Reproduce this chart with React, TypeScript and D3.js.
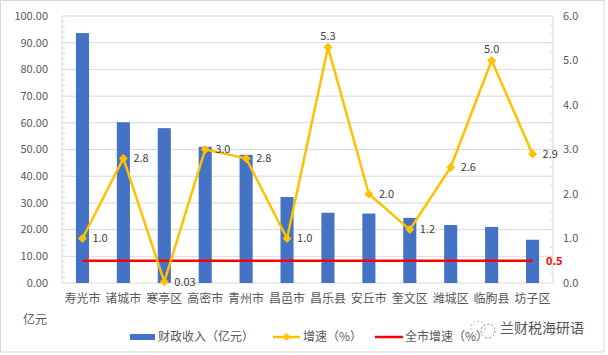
import React from "react";
import * as d3 from "d3";

const categories = ["寿光市", "诸城市", "寒亭区", "高密市", "青州市", "昌邑市", "昌乐县", "安丘市", "奎文区", "潍城区", "临朐县", "坊子区"];
const revenue = [93.6, 60.2, 58.0, 51.0, 48.0, 32.2, 26.3, 26.0, 24.4, 21.7, 21.0, 16.2];
const growth = [1.0, 2.8, 0.03, 3.0, 2.8, 1.0, 5.3, 2.0, 1.2, 2.6, 5.0, 2.9];
const growthLabels = ["1.0", "2.8", "0.03", "3.0", "2.8", "1.0", "5.3", "2.0", "1.2", "2.6", "5.0", "2.9"];
const labelPlacement = ["right", "right", "right", "right", "right", "right", "above", "right", "right", "right", "above", "right"];
const cityGrowth = 0.5;
const leftTicks = [0, 10, 20, 30, 40, 50, 60, 70, 80, 90, 100];
const rightTicks = [0, 1, 2, 3, 4, 5, 6];
const legendLabels = ["财政收入（亿元）", "增速（%）", "全市增速（%）"];

const W = 608, H = 355;
const M = { left: 62, right: 553, top: 16, bottom: 283 };
const FONT = "'Noto Sans CJK SC', 'Noto Sans', sans-serif";
const BLUE = "#4472C4", GOLD = "#FFC000", RED = "#FF0000", GRID = "#D9D9D9", TXT = "#595959";

function diamond(x: number, y: number, r: number) {
  return `M${x},${y - r}L${x + r},${y}L${x},${y + r}L${x - r},${y}Z`;
}

export default function App() {
  const x = d3.scaleBand<string>().domain(categories).range([M.left, M.right]).paddingInner(0).paddingOuter(0);
  const yL = d3.scaleLinear().domain([0, 100]).range([M.bottom, M.top]);
  const yR = d3.scaleLinear().domain([0, 6]).range([M.bottom, M.top]);
  const bw = x.bandwidth() * 0.32;
  const cx = (c: string) => (x(c) as number) + x.bandwidth() / 2;
  const line = d3.line<number>().x((_, i) => cx(categories[i])).y((d) => yR(d));
  const leftMinor = d3.range(0, 101, 2).filter((v) => v % 10 !== 0);
  const rightMinor = d3.range(0, 31).map((v) => v / 5).filter((v, i) => i % 5 !== 0);
  const redY = yR(cityGrowth);
  const firstX = cx(categories[0]);
  const lastX = cx(categories[categories.length - 1]);

  return (
    <svg width={W} height={H} style={{ position: "absolute", left: 0, top: 0, fontFamily: FONT }}>
      <rect x={0.5} y={0.5} width={603.5} height={351.5} fill="#fff" stroke="#D9D9D9" />
      {leftTicks.map((t) => (
        <line key={"g" + t} x1={M.left} x2={M.right} y1={yL(t)} y2={yL(t)} stroke={GRID} strokeWidth={1} />
      ))}
      <line x1={M.left} x2={M.left} y1={M.top} y2={M.bottom} stroke={GRID} />
      <line x1={M.right} x2={M.right} y1={M.top} y2={M.bottom} stroke={GRID} />
      {leftMinor.map((t) => (
        <line key={"lm" + t} x1={M.left} x2={M.left + 3} y1={yL(t)} y2={yL(t)} stroke={GRID} />
      ))}
      {rightMinor.map((t) => (
        <line key={"rm" + t} x1={M.right - 3} x2={M.right} y1={yR(t)} y2={yR(t)} stroke={GRID} />
      ))}
      {leftTicks.map((t) => (
        <text key={"lt" + t} x={48} y={yL(t)} dy="0.35em" textAnchor="end" fontSize={11} fill={TXT}>
          {t.toFixed(2)}
        </text>
      ))}
      {rightTicks.map((t) => (
        <text key={"rt" + t} x={563} y={yR(t)} dy="0.35em" textAnchor="start" fontSize={11} fill={TXT}>
          {t.toFixed(1)}
        </text>
      ))}
      {categories.map((c, i) => (
        <rect key={"b" + c} x={cx(c) - bw / 2} y={yL(revenue[i])} width={bw} height={M.bottom - yL(revenue[i])} fill={BLUE} />
      ))}
      {categories.map((c) => (
        <text key={"c" + c} x={cx(c)} y={299} dy="0.35em" textAnchor="middle" fontSize={12} fill={TXT}>
          {c}
        </text>
      ))}
      <line x1={firstX} x2={lastX} y1={redY} y2={redY} stroke={RED} strokeWidth={2.5} />
      <text x={546} y={redY} dy="0.35em" fontSize={11} fill={RED} fontWeight="bold">
        {cityGrowth.toFixed(1)}
      </text>
      <path d={line(growth) as string} fill="none" stroke={GOLD} strokeWidth={2.5} strokeLinejoin="round" />
      {growth.map((g, i) => (
        <path key={"m" + i} d={diamond(cx(categories[i]), yR(g), 4.5)} fill={GOLD} />
      ))}
      {growth.map((g, i) => {
        const px = cx(categories[i]);
        const py = yR(g);
        const above = labelPlacement[i] === "above";
        return (
          <text
            key={"l" + i}
            x={above ? px : px + 10}
            y={above ? py - 11 : py}
            dy="0.35em"
            textAnchor={above ? "middle" : "start"}
            fontSize={11}
            fill="#404040"
          >
            {growthLabels[i]}
          </text>
        );
      })}
      <text x={35} y={320} dy="0.35em" textAnchor="middle" fontSize={12} fill={TXT}>亿元</text>
      {/* legend */}
      <rect x={130} y={334} width={25} height={6} fill={BLUE} />
      <text x={158} y={337} dy="0.35em" fontSize={12} fill={TXT}>{legendLabels[0]}</text>
      <line x1={273} x2={300} y1={337} y2={337} stroke={GOLD} strokeWidth={2.5} />
      <path d={diamond(286.5, 337, 4)} fill={GOLD} />
      <text x={303} y={337} dy="0.35em" fontSize={12} fill={TXT}>{legendLabels[1]}</text>
      <line x1={375} x2={403} y1={337} y2={337} stroke={RED} strokeWidth={2.5} />
      <text x={405} y={337} dy="0.35em" fontSize={12} fill={TXT}>{legendLabels[2]}</text>
      {/* watermark */}
      <circle cx={478} cy={328} r={7} fill="none" stroke="#bbb" strokeDasharray="2 2" />
      <circle cx={488} cy={331} r={7} fill="none" stroke="#888" strokeDasharray="2 2" />
      <text x={500} y={328} dy="0.35em" fontSize={14} fill="#555">兰财税海研语</text>
    </svg>
  );
}
